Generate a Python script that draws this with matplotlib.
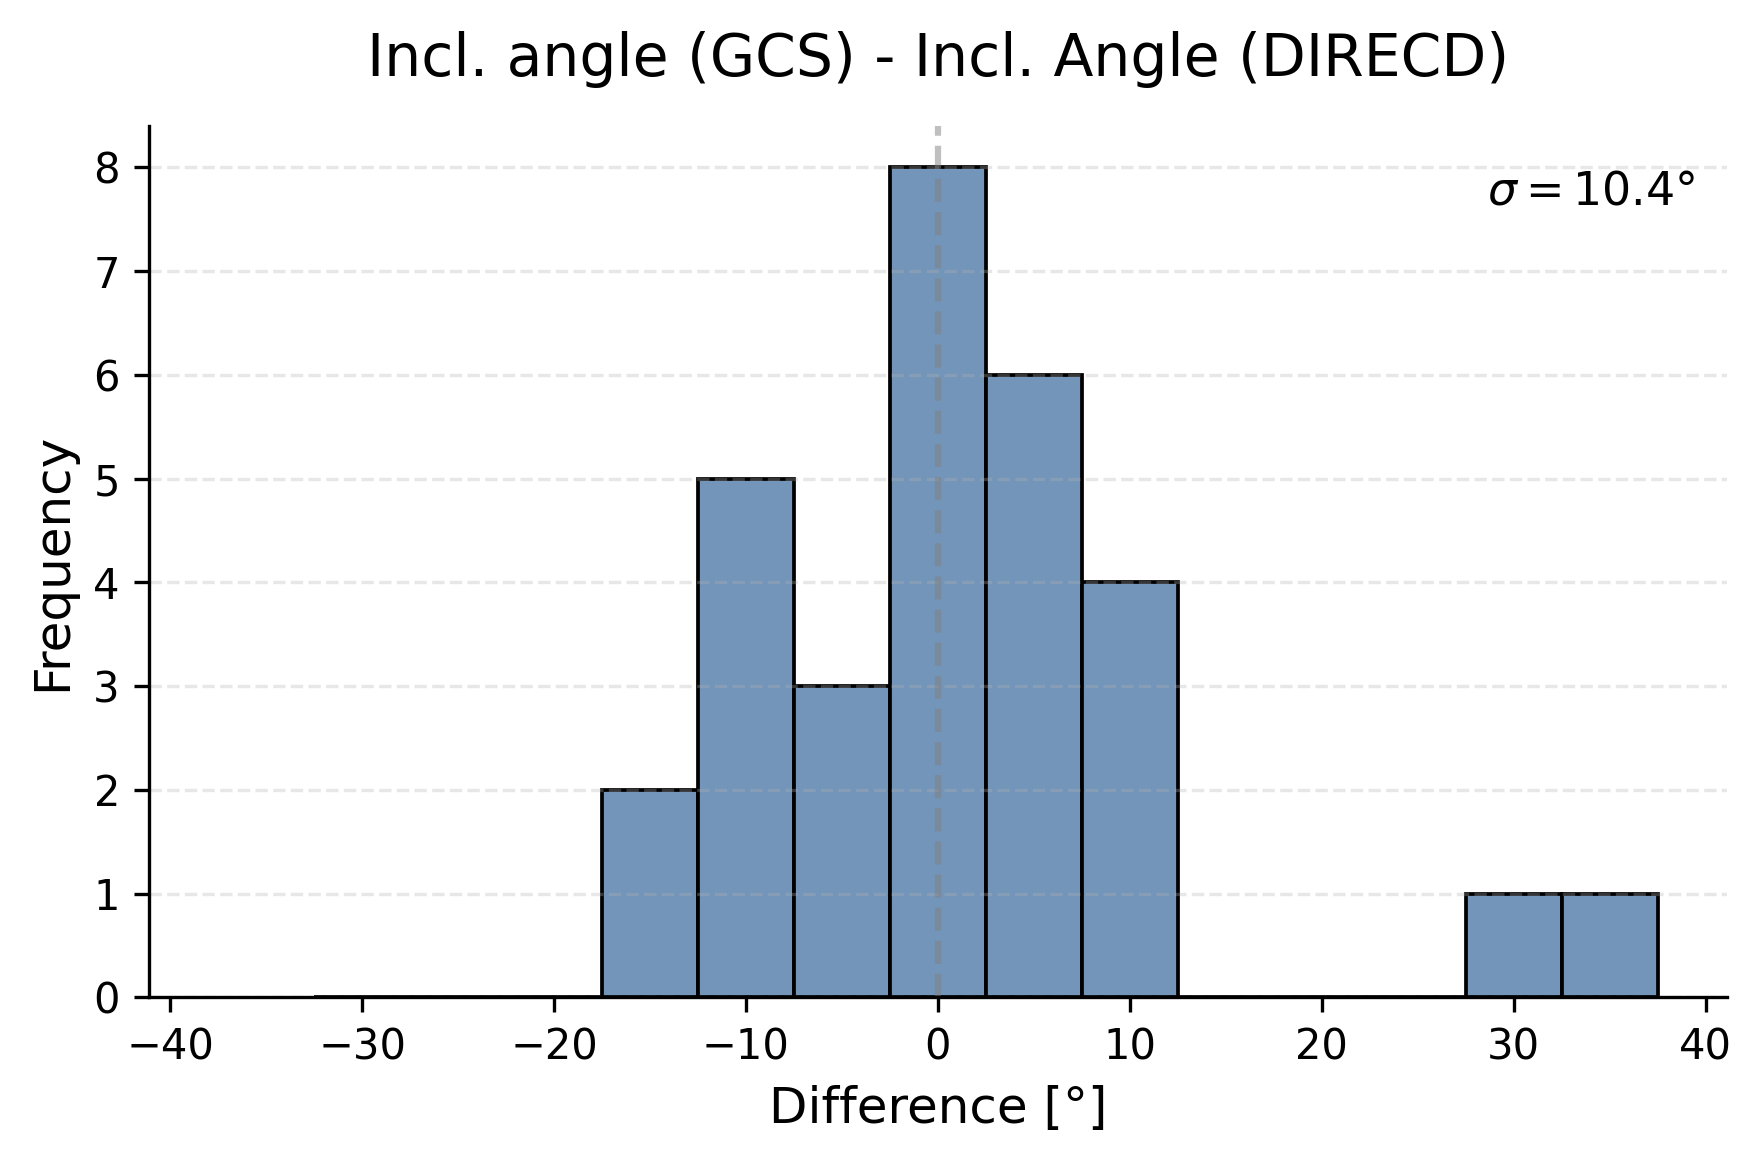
import numpy as np
import matplotlib
matplotlib.use("Agg")
import matplotlib.pyplot as plt

# histogram bins (5 deg wide) and counts
bin_edges = [-32.5, -27.5, -22.5, -17.5, -12.5, -7.5, -2.5, 2.5, 7.5,
             12.5, 17.5, 22.5, 27.5, 32.5, 37.5]
counts = [0, 0, 0, 2, 5, 3, 8, 6, 4, 0, 0, 0, 1, 1]
sigma = 10.4

title = "Incl. angle (GCS) - Incl. Angle (DIRECD)"
xlabel = "Difference [°]"
ylabel = "Frequency"

fig = plt.figure(figsize=(1762 / 300, 1164 / 300), dpi=300)
ax = fig.add_axes([0.0846, 0.1432, 0.980 - 0.0846, 0.8919 - 0.1432])

centers = (np.array(bin_edges[:-1]) + np.array(bin_edges[1:])) / 2
ax.hist(centers, bins=bin_edges, weights=counts, color="#7395B9",
        edgecolor="black", linewidth=0.9)

ax.axvline(0, color="gray", linestyle="--", linewidth=1.5, alpha=0.5)
ax.grid(axis="y", linestyle="--", alpha=0.3)

ax.text(0.98, 0.95, r"$\sigma = 10.4°$".replace("10.4", f"{sigma:.1f}"),
        transform=ax.transAxes, ha="right", va="top", fontsize=11)

ax.set_xlim(-41.1, 41.1)
ax.set_ylim(0, 8.4)
ax.set_xticks(np.arange(-40, 41, 10))
ax.tick_params(labelsize=10)
ax.set_xlabel(xlabel, fontsize=12)
ax.set_ylabel(ylabel, fontsize=12)
ax.set_title(title, fontsize=14, pad=12)
ax.spines["top"].set_visible(False)
ax.spines["right"].set_visible(False)

fig.savefig("out.png", dpi=300)
